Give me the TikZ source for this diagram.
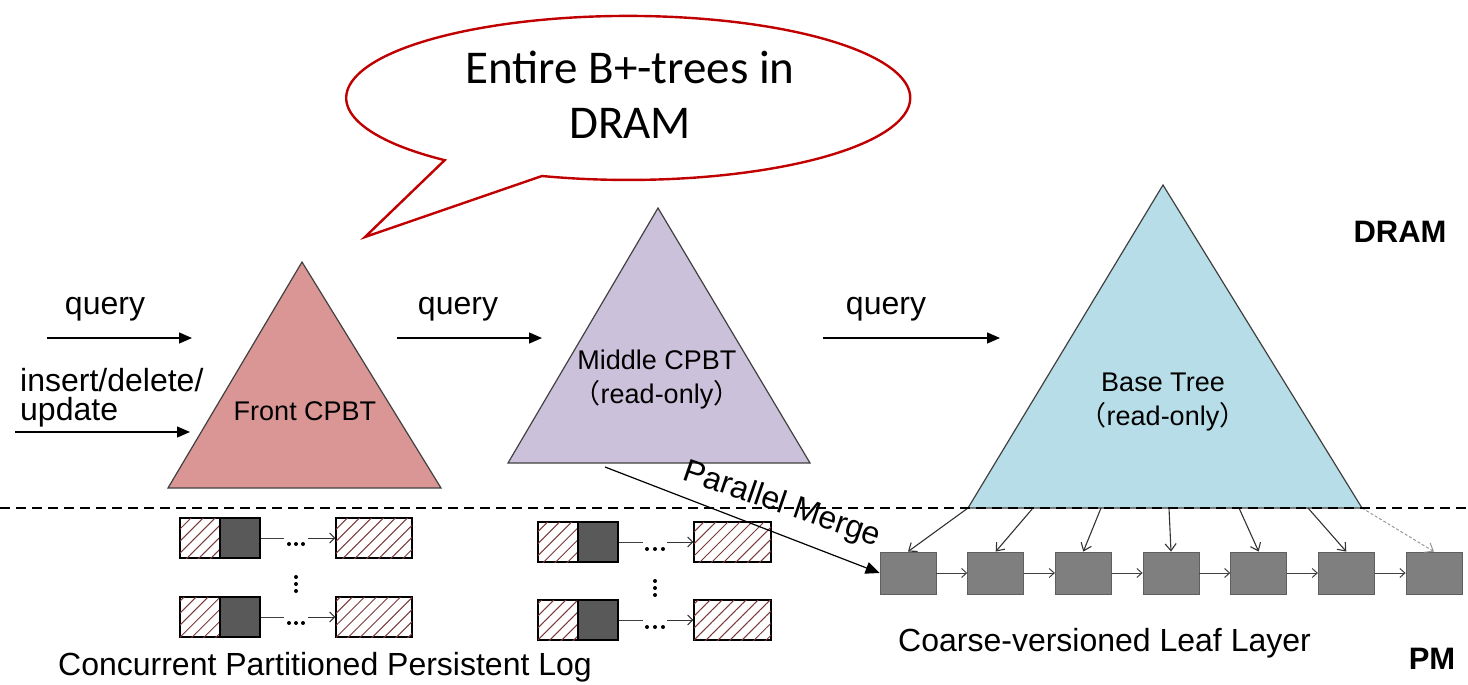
\documentclass[tikz,border=0pt]{standalone}
\usepackage{fontspec}
\setmainfont{Liberation Sans}
\newfontfamily\calfont{Carlito}
\newfontfamily\cjkfont{Noto Sans CJK SC}
\usetikzlibrary{arrows.meta,patterns.meta}
\definecolor{bubred}{HTML}{C00000}
\definecolor{frontc}{HTML}{D99694}
\definecolor{midc}{HTML}{CCC1DA}
\definecolor{basec}{HTML}{B7DEE8}
\definecolor{leafc}{HTML}{7F7F7F}
\definecolor{leafedge}{HTML}{5F5F5F}
\definecolor{darkbox}{HTML}{595959}
\definecolor{hatchc}{HTML}{7A3A3A}
\definecolor{edgec}{HTML}{404040}
\tikzset{
 bigtxt/.style={font=\fontsize{32}{36}\selectfont, inner sep=0pt},
 labtxt/.style={font=\fontsize{27}{32}\selectfont, inner sep=0pt},
 boldtxt/.style={font=\bfseries\fontsize{31}{36}\selectfont, inner sep=0pt},
 tri/.style={draw=edgec, line width=1.2pt, line join=miter},
 farrow/.style={line width=1.3pt, -{Triangle[length=13pt,width=11pt]}},
 sarrow/.style={line width=1pt, draw=black!80, -{Straight Barb[length=5pt,width=10pt]}},
 hbox/.style={draw=black, line width=1.2pt, minimum height=40pt, inner sep=0pt, fill=white,
   postaction={pattern={Lines[angle=45,distance=8.5pt,line width=1pt]}, pattern color=hatchc}},
 dbox/.style={draw=black, line width=1.2pt, fill=darkbox, minimum width=40pt, minimum height=40pt, inner sep=0pt},
 gapbox/.style={minimum width=24pt, minimum height=2pt, inner sep=0pt},
 leafbox/.style={draw=leafedge, fill=leafc, minimum width=56pt, minimum height=42pt, inner sep=0pt, line width=0.8pt},
}
\begin{document}
\begin{tikzpicture}[x=1pt,y=-1pt]
\useasboundingbox (0,0) rectangle (1468,685);

% speech bubble
\draw[bubred, line width=2.4pt, fill=white, line join=miter]
  (542,176) arc[start angle=252.2, end angle=589.4, x radius=282pt, y radius=82pt] -- (365,237) -- cycle;
\node[font=\calfont\fontsize{47}{55}\selectfont, anchor=base, inner sep=0pt] (bub1) at (630,84) {Entire B+-trees in};
\node[font=\calfont\fontsize{47}{55}\selectfont, anchor=base, inner sep=0pt] (bub2) at (630,139) {DRAM};

% triangles
\coordinate (fA) at (302,262); \coordinate (fL) at (168,488); \coordinate (fR) at (441,488);
\coordinate (mA) at (658,208); \coordinate (mL) at (508,463); \coordinate (mR) at (810,463);
\coordinate (bA) at (1163,185); \coordinate (bL) at (968,508); \coordinate (bR) at (1362,508);
\draw[tri, fill=frontc] (fA) -- (fR) -- (fL) -- cycle;
\draw[tri, fill=midc] (mA) -- (mR) -- (mL) -- cycle;
\draw[tri, fill=basec] (bA) -- (bR) -- (bL) -- cycle;
\node[labtxt] (front) at (305,411) {Front CPBT};
\node[labtxt] (mid1) at (657,360) {Middle CPBT};
\node[labtxt] (mid2) at (657,395) {{\cjkfont （}read-only{\cjkfont ）}};
\node[labtxt] (base1) at (1163,382) {Base Tree};
\node[labtxt] (base2) at (1163,417) {{\cjkfont （}read-only{\cjkfont ）}};

% query arrows
\coordinate (q1s) at (47,338); \coordinate (q1e) at (192,338);
\coordinate (q2s) at (15,432); \coordinate (q2e) at (190,432);
\coordinate (q3s) at (397,338); \coordinate (q3e) at (542,338);
\coordinate (q4s) at (823,338); \coordinate (q4e) at (1000,338);
\draw[farrow] (q1s) -- (q1e);
\draw[farrow] (q2s) -- (q2e);
\draw[farrow] (q3s) -- (q3e);
\draw[farrow] (q4s) -- (q4e);
\node[bigtxt, anchor=base] (ql1) at (105,314) {query};
\node[bigtxt, anchor=base] (ql2) at (458,314) {query};
\node[bigtxt, anchor=base] (ql3) at (886,314) {query};
\node[bigtxt, anchor=base west] (ins1) at (20,391) {insert/delete/};
\node[bigtxt, anchor=base west] (ins2) at (20,420) {update};

% DRAM / PM
\node[boldtxt] (dram) at (1400,232) {DRAM};
\node[boldtxt] (pm) at (1432,659) {PM};

% leaf layer
\foreach \i/\x in {1/908,2/995.7,3/1083.3,4/1171,5/1258.7,6/1346.3,7/1434}{
  \node[leafbox] (leaf\i) at (\x,573) {};
}
\foreach \i/\j in {1/2,2/3,3/4,4/5,5/6,6/7}{
  \draw[line width=1pt, draw=black!75, -{Straight Barb[length=5pt,width=9pt]}] (leaf\i.east) -- (leaf\j.west);
}
\coordinate (s1) at (968,508); \coordinate (s2) at (1033,508); \coordinate (s3) at (1101,508);
\coordinate (s4) at (1169,508); \coordinate (s5) at (1239,508); \coordinate (s6) at (1308,508);
\foreach \i in {1,...,6}{
  \draw[line width=1.1pt, draw=black!80, -{Straight Barb[length=7pt,width=11pt]}] (s\i) -- (leaf\i.north);
}
\draw[line width=1pt, draw=black!40, dash pattern=on 3pt off 2pt, -{Straight Barb[length=7pt,width=11pt]}] (bR) -- (leaf7.north);

% dashed separator
\coordinate (dl) at (0,508); \coordinate (dr) at (1468,508);
\draw[line width=1.2pt, dash pattern=on 10pt off 6pt] (dl) -- (dr);

% persistent log: front group
\foreach \r/\y in {a/538,b/617}{
  \node[hbox, minimum width=40pt] (fh\r) at (200,\y) {};
  \node[dbox] (fd\r) at (240,\y) {};
  \node[gapbox] (fg\r) at (296,\y) {};
  \node[hbox, minimum width=76pt] (fb\r) at (374,\y) {};
  \draw[line width=1pt, draw=black!75] (fd\r.east) -- (fg\r.west);
  \draw[sarrow] (fg\r.east) -- (fb\r.west);
  \fill (289,\y+6) circle[radius=2pt] (296,\y+6) circle[radius=2pt] (303,\y+6) circle[radius=2pt];
}
\fill (296,577) circle[radius=2pt] (296,584) circle[radius=2pt] (296,591) circle[radius=2pt];

% persistent log: middle group
\foreach \r/\y in {a/542,b/620}{
  \node[hbox, minimum width=40pt] (mh\r) at (558,\y) {};
  \node[dbox] (md\r) at (598,\y) {};
  \node[gapbox] (mg\r) at (655,\y) {};
  \node[hbox, minimum width=77pt] (mb\r) at (732.5,\y) {};
  \draw[line width=1pt, draw=black!75] (md\r.east) -- (mg\r.west);
  \draw[sarrow] (mg\r.east) -- (mb\r.west);
  \fill (647,\y+7) circle[radius=2pt] (655,\y+7) circle[radius=2pt] (663,\y+7) circle[radius=2pt];
}
\fill (655,581) circle[radius=2pt] (655,588) circle[radius=2pt] (655,595) circle[radius=2pt];

% parallel merge
\coordinate (pms) at (605,467);
\draw[line width=1.2pt, -{Triangle[length=14pt,width=12pt]}] (pms) -- (leaf1.west);
\node[bigtxt, rotate=-19] (pmlab) at (782,505) {Parallel Merge};

% bottom labels
\node[bigtxt, anchor=base west] (loglab) at (58,675) {Concurrent Partitioned Persistent Log};
\node[bigtxt, anchor=base west] (leaflab) at (898,651) {Coarse-versioned Leaf Layer};
\end{tikzpicture}
\end{document}
